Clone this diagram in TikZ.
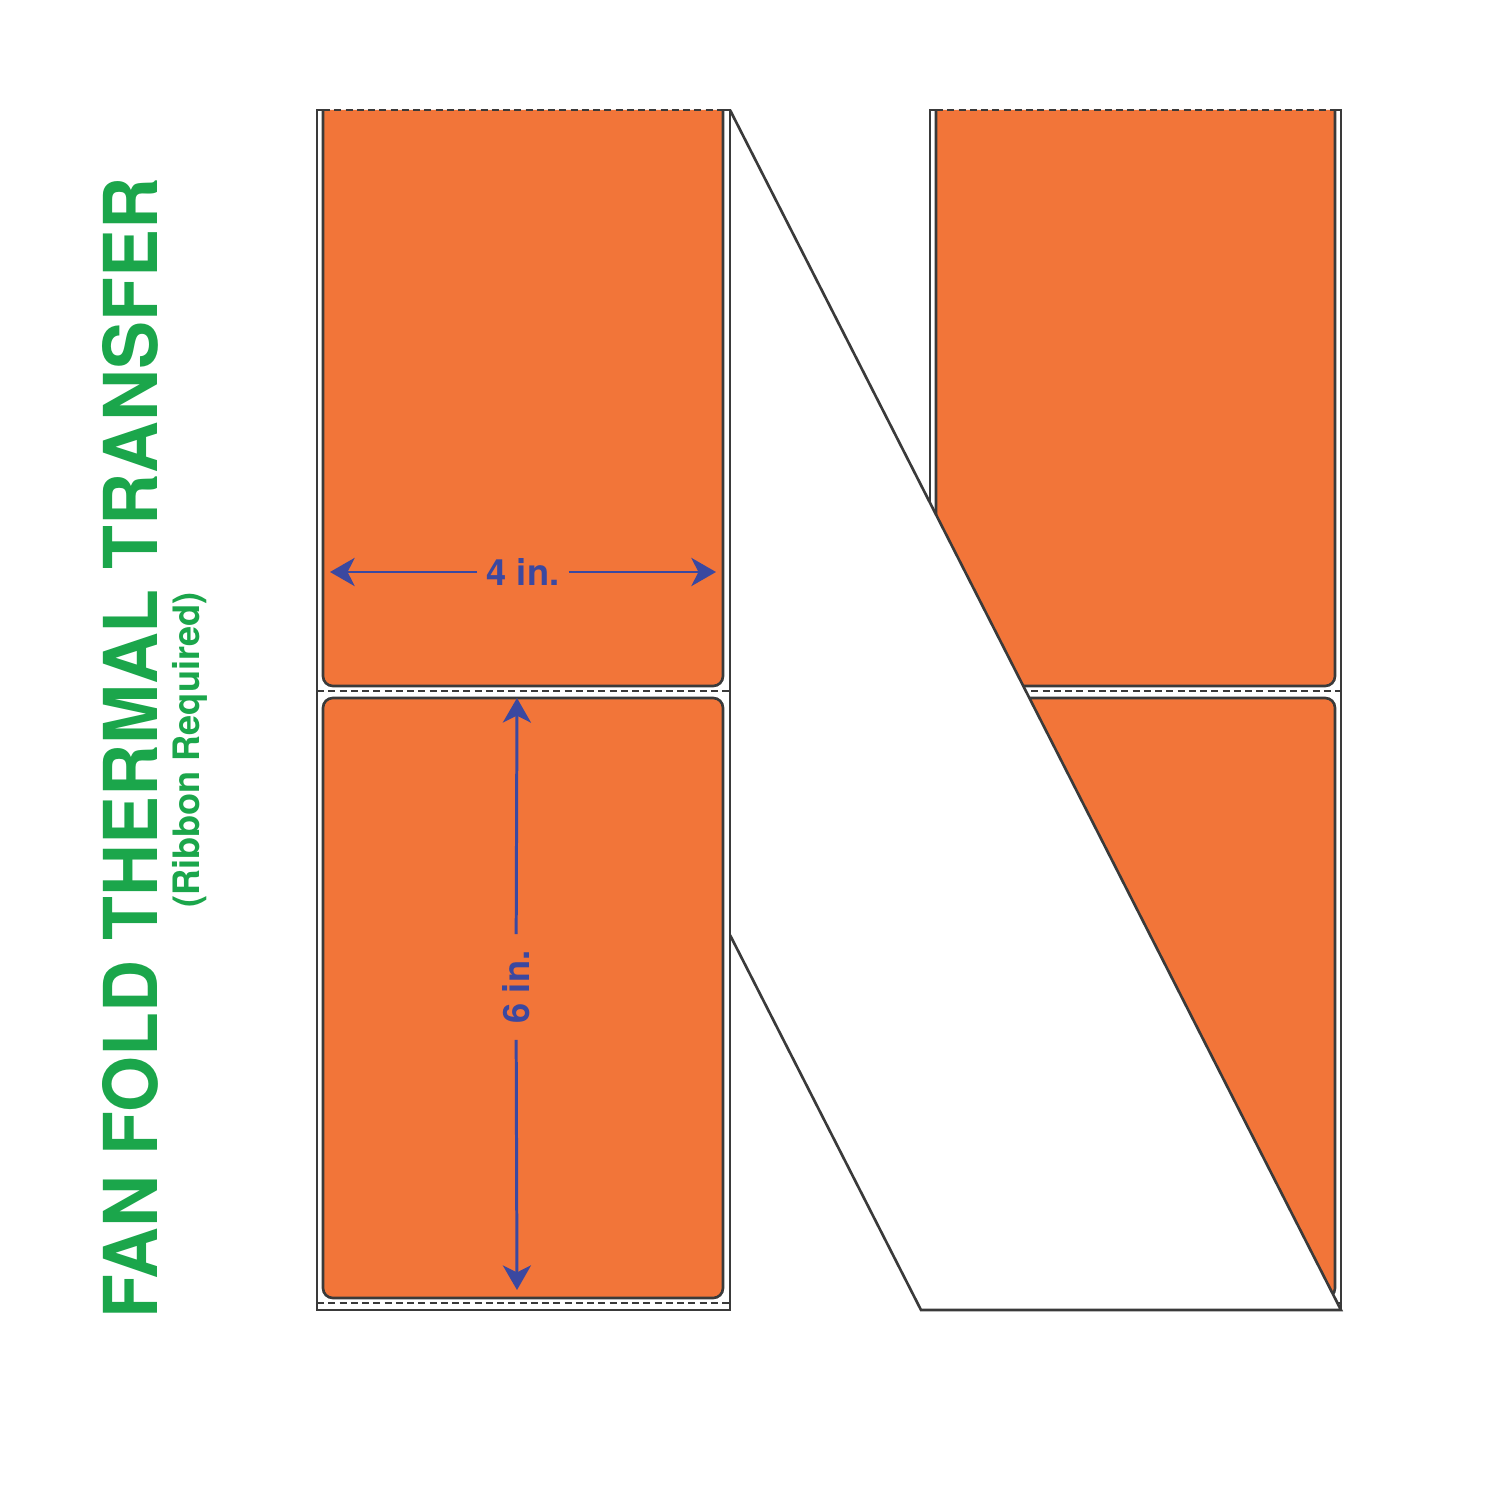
\documentclass[tikz,border=0pt]{standalone}
\usepackage{fontspec}
\setmainfont{TeX Gyre Heros}
\usetikzlibrary{arrows.meta}
\definecolor{lblorange}{HTML}{F27539}
\definecolor{titlegreen}{HTML}{1BA64B}
\definecolor{dimblue}{HTML}{3B48A0}
\definecolor{edgegray}{HTML}{3A3A3A}
\begin{document}
\begin{tikzpicture}[x=0.01cm,y=-0.01cm,
  liner/.style={draw=edgegray, line width=0.75pt, line join=miter},
  lbl/.style={fill=lblorange, draw=edgegray, line width=0.75pt, rounded corners=2.8pt},
  perf/.style={draw=edgegray, line width=0.6pt, dash pattern=on 2pt off 1.2pt},
  dim/.style={draw=dimblue, line width=0.85pt, -{Stealth[length=7pt,width=8pt,inset=2pt]}},
  dimtext/.style={text=dimblue, font=\fontsize{10.3}{12}\selectfont\bfseries, inner ysep=0pt}]
\useasboundingbox[fill=white] (0,0) rectangle (1500,1500);

% right strip (partly hidden by the fold)
\fill[white] (930,110) rectangle (1341,1310);
\draw[liner] (936,110) -- (930,110) -- (930,1310) -- (1341,1310) -- (1341,110) -- (1335,110);
\draw[lbl] (936,110) -- (936,686) -- (1335,686) -- (1335,110);
\draw[lbl] (936,698) rectangle (1335,1298);
\draw[perf] (936,110) -- (1335,110);
\draw[perf] (930,691) -- (1341,691);
\draw[perf] (930,1303) -- (1341,1303);

% fold (back of liner)
\draw[liner, fill=white] (730,110) -- (1341,1310) -- (921,1310) -- (730,935);

% left strip
\fill[white] (317,110) rectangle (730,1310);
\draw[liner] (323,110) -- (317,110) -- (317,1310) -- (730,1310) -- (730,110) -- (723,110);
\draw[lbl] (323,110) -- (323,686) -- (723,686) -- (723,110);
\draw[lbl] (323,698) rectangle (723,1298);
\draw[perf] (323,110) -- (723,110);
\draw[perf] (317,691) -- (730,691);
\draw[perf] (317,1303) -- (730,1303);

% dimensions
\coordinate (wL) at (330,572);
\coordinate (wR) at (716,572);
\node[dimtext, inner xsep=2.5pt] (w) at (523,572) {4 in.};
\draw[dim] (w) -- (wL);
\draw[dim] (w) -- (wR);

\coordinate (hT) at (517,698);
\coordinate (hB) at (517,1290);
\node[dimtext, rotate=90, inner xsep=4.5pt] (h) at (516,987) {6 in.};
\draw[dim] (h) -- (hT);
\draw[dim] (h) -- (hB);

% title
\node[rotate=90, text=titlegreen, inner sep=0pt] (title) at (130,748)
  {\resizebox{11.4cm}{0.55cm}{\bfseries FAN FOLD THERMAL TRANSFER}};
\node[rotate=90, text=titlegreen, inner sep=0pt] (sub) at (189.5,750)
  {\resizebox*{3.15cm}{0.35cm}{\bfseries (Ribbon Required)}};
\end{tikzpicture}
\end{document}
